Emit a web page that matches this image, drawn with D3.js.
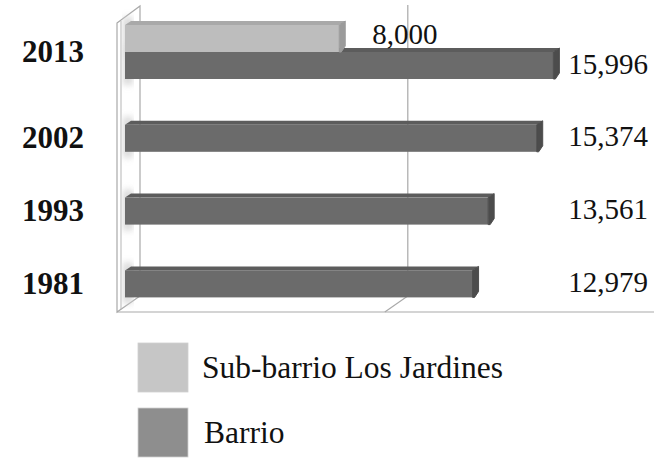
<!DOCTYPE html>
<html><head><meta charset="utf-8">
<script src="https://cdn.jsdelivr.net/npm/d3@7"></script>
<style>html,body{margin:0;padding:0;background:#fff}svg{display:block}
svg text{font-family:"Liberation Serif","DejaVu Serif",serif}</style>
</head><body>
<svg id="chart" width="654" height="458"></svg>
<script>
const categories = ["2013", "2002", "1993", "1981"];
const seriesNames = ["Sub-barrio Los Jardines", "Barrio"];
const subBarrioValues = [8000, null, null, null];
const barrioValues = [15996, 15374, 13561, 12979];
const gridTicks = [10000];

const svg = d3.select("#chart");

// projection / layout
const x = d3.scaleLinear().domain([0, 20000]).range([125, 660.6]);
const y = d3.scaleBand().domain(categories).range([25, 25 + 4 * 72.8]);
const ySeries = d3.scaleBand().domain(seriesNames).range([0, 54]);
const depthBack = 15, depthFront = -8, floorY = 312, floorBackY = 296, wallTopFront = 23, wallTopBack = 6;
const bdx = 6, bdy = 4;

const colors = {
  "Sub-barrio Los Jardines": {front: "#bdbdbd", top: "#a9a9a9", cap: "#9b9b9b", legend: "#c6c6c6"},
  "Barrio": {front: "#6b6b6b", top: "#5c5c5c", cap: "#4c4c4c", legend: "#8e8e8e"}
};

const defs = svg.append("defs");
defs.append("filter").attr("id", "blur").append("feGaussianBlur").attr("stdDeviation", 3);

// wall
const wx0 = x(0) + depthFront, wx1 = x(0) + depthBack;
svg.append("path")
  .attr("d", `M${wx0},${wallTopFront}L${wx1},${wallTopBack}L${wx1},${floorBackY}L${wx0},${floorY}Z`)
  .attr("fill", "#fff").attr("stroke", "#a9a9a9").attr("stroke-width", 1.2);
svg.append("line").attr("x1", wx0 + 4).attr("x2", wx0 + 4).attr("y1", wallTopFront - 2).attr("y2", floorY - 3)
  .attr("stroke", "#b5b5b5").attr("stroke-width", 1);

// wall shadows
const shadowG = svg.append("g").attr("filter", "url(#blur)");
categories.forEach((c, i) => {
  [[seriesNames[0], subBarrioValues[i]], [seriesNames[1], barrioValues[i]]].forEach(([s, v]) => {
    if (v == null) return;
    const yt = y(c) + ySeries(s);
    shadowG.append("rect").attr("x", wx0 + 6).attr("width", 10)
      .attr("y", yt - 8).attr("height", ySeries.bandwidth() + 14)
      .attr("fill", "#cfcfcf").attr("opacity", 0.8);
  });
});

// floor line
svg.append("line").attr("x1", wx0).attr("x2", 654).attr("y1", floorY).attr("y2", floorY)
  .attr("stroke", "#a9a9a9").attr("stroke-width", 1.2);

// gridlines
gridTicks.forEach(t => {
  const gb = x(t) + depthBack, gf = x(t) + depthFront;
  svg.append("path").attr("d", `M${gb},${wallTopBack - 1}L${gb},${floorBackY}L${gf},${floorY}`)
    .attr("fill", "none").attr("stroke", "#a9a9a9").attr("stroke-width", 1.2);
});

// bars
function drawBar(g, v, yt, h, col) {
  const x0 = x(0), x1 = x(v), yb = yt + h;
  g.append("path").attr("d", `M${x0},${yt}L${x0 + bdx},${yt - bdy}L${x1 + bdx},${yt - bdy}L${x1},${yt}Z`)
    .attr("fill", col.top);
  g.append("rect").attr("x", x0).attr("y", yt).attr("width", x1 - x0).attr("height", h).attr("fill", col.front);
  g.append("path").attr("d", `M${x1},${yt}L${x1 + bdx},${yt - bdy}L${x1 + bdx},${yb - bdy - 2}L${x1 + 2},${yb}L${x1},${yb}Z`)
    .attr("fill", col.cap).attr("stroke", col.cap).attr("stroke-linejoin", "round").attr("stroke-width", 1);
}
const barsG = svg.append("g");
categories.forEach((c, i) => {
  const bv = barrioValues[i];
  drawBar(barsG, bv, y(c) + ySeries("Barrio"), ySeries.bandwidth(), colors["Barrio"]);
  const sv = subBarrioValues[i];
  if (sv != null) drawBar(barsG, sv, y(c) + ySeries(seriesNames[0]), ySeries.bandwidth(), colors[seriesNames[0]]);
});

// value labels
const fmt = d3.format(",");
const labG = svg.append("g").attr("font-size", 29).attr("fill", "#111");
const barrioLabelX = x(d3.max(barrioValues)) + 15;
categories.forEach((c, i) => {
  const yc = y(c) + ySeries("Barrio") + ySeries.bandwidth() / 2;
  labG.append("text").attr("x", barrioLabelX).attr("y", yc + 8).text(fmt(barrioValues[i]));
  const sv = subBarrioValues[i];
  if (sv != null) {
    const ys = y(c) + ySeries(seriesNames[0]) + ySeries.bandwidth() / 2;
    labG.append("text").attr("x", x(sv) + 33).attr("y", ys + 5).text(fmt(sv));
  }
});

// category labels
const catG = svg.append("g").attr("font-size", 31).attr("font-weight", "bold").attr("fill", "#111");
categories.forEach((c, i) => {
  const present = [];
  if (subBarrioValues[i] != null) present.push(seriesNames[0]);
  if (barrioValues[i] != null) present.push("Barrio");
  const top = y(c) + ySeries(present[0]);
  const bot = y(c) + ySeries(present[present.length - 1]) + ySeries.bandwidth();
  catG.append("text").attr("x", 22).attr("y", (top + bot) / 2 + 10).text(c);
});

// legend
const leg = svg.append("g").attr("font-size", 31.5).attr("fill", "#111");
seriesNames.forEach((s, i) => {
  const ly = 343 + i * 65;
  leg.append("rect").attr("x", 138).attr("y", ly).attr("width", 50).attr("height", 49)
    .attr("fill", colors[s].legend).attr("stroke", "#d0d0d0").attr("stroke-width", 0.8);
  leg.append("text").attr("x", 202 + i * 2).attr("y", ly + 35).text(s);
});
</script>
</body></html>
